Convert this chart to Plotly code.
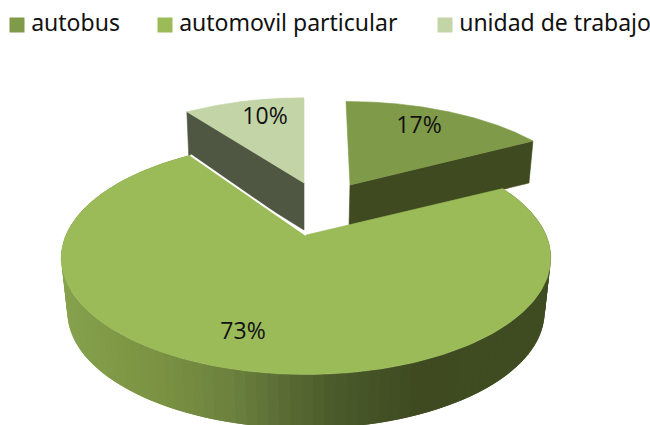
import numpy as np
import plotly.graph_objects as go

categories = ["autobus", "automovil particular", "unidad de trabajo"]
values = [17, 73, 10]
top_colors = ["#7f9a48", "#9bbb59", "#c3d5a6"]
wall_colors = ["#3f4a20", None, "#4f5641"]
legend_x = [17, 165, 445]

W, H = 650, 425
K = 0.197
# tip_x, tip_y, radius_x, radius_y, depth, skew, rotation in degrees
geom = [
    (350, 185, 231, 100, 42, 4, 0),
    (306, 235, 240, 112, 54, 0, 2),
    (304, 183, 231, 102, 47, 0, 0),
]
label_pos = [(419, 127), (243, 333), (265, 118)]
side_stops_x = [60, 170, 240, 340, 430, 555]
side_stops_rgb = [(135, 163, 78), (122, 146, 66), (108, 130, 62), (76, 92, 44), (63, 74, 32), (64, 77, 35)]


def project(t, g):
    tx, ty, rx, ry, _, skew, rot = g
    a = t + np.radians(rot)
    u, v = np.sin(a), np.cos(a)
    d = 1 + K * v
    return tx + rx * u / d - skew * v, ty - ry * v / d


frac = np.array(values) / sum(values)
edges = np.concatenate([[0], np.cumsum(frac)]) * 2 * np.pi
angles = [np.linspace(edges[i], edges[i + 1], 240) for i in range(3)]

fig = go.Figure()


def poly(x, y, color, width=0.6):
    fig.add_trace(go.Scatter(x=x, y=y, mode="lines", fill="toself", fillcolor=color,
                             line=dict(color=color, width=width), hoverinfo="skip", showlegend=False))


# exploded back slices: wall first, then top
for i in (2, 0):
    g = geom[i]
    edge_t = angles[i][0] if i == 2 else angles[i][-1]
    ex, ey = project(edge_t, g)
    poly([g[0], ex, ex - (-2 if i == 2 else 4), g[0] - (1 if i == 0 else 0), g[0]],
         [g[1], ey, ey + g[4], g[1] + g[4], g[1]], wall_colors[i])
    ax, ay = project(angles[i], g)
    poly(np.r_[g[0], ax, g[0]], np.r_[g[1], ay, g[1]], top_colors[i])

# large slice: outer wall built from its own arc, shaded left to right
g = geom[1]
ax, ay = project(angles[1], g)
shrink = 0.975
bx = g[0] + (ax - g[0]) * shrink
by = ay + g[4]
# overlapping strips hide the seams between neighbouring shades
step = 2
for j in range(len(ax) - 1 - step, -1, -step):
    k = j + step + 2 if j + step + 2 < len(ax) else len(ax) - 1
    xm = (ax[j] + ax[j + step]) / 2
    rgb = [np.interp(xm, side_stops_x, [c[n] for c in side_stops_rgb]) for n in range(3)]
    col = "rgb(%d,%d,%d)" % tuple(rgb)
    poly([ax[j], ax[k], bx[k], bx[j], ax[j]], [ay[j], ay[k], by[k], by[j], ay[j]], col, width=0)

poly(np.r_[g[0], ax, g[0]], np.r_[g[1], ay, g[1]], top_colors[1])
fig.add_trace(go.Scatter(x=[ax[-1], g[0]], y=[ay[-1], g[1]], mode="lines",
                         line=dict(color="white", width=2), hoverinfo="skip", showlegend=False))

# percentage labels
fig.add_trace(go.Scatter(x=[p[0] for p in label_pos], y=[p[1] for p in label_pos], mode="text",
                         text=[f"{v}%" for v in values], textposition="middle center",
                         textfont=dict(family="Open Sans", size=23, color="#111111"),
                         hoverinfo="skip", showlegend=False))

# legend row
fig.add_trace(go.Scatter(x=legend_x, y=[25] * 3, mode="markers+text",
                         marker=dict(symbol="square", size=15, color=top_colors),
                         text=["\u2009" + c for c in categories], textposition="middle right",
                         textfont=dict(family="Noto Sans", size=23, color="#111111"),
                         hoverinfo="skip", showlegend=False))

fig.update_layout(width=W, height=H, margin=dict(l=0, r=0, t=0, b=0),
                  paper_bgcolor="white", plot_bgcolor="white", showlegend=False,
                  xaxis=dict(range=[0, W], visible=False, fixedrange=True),
                  yaxis=dict(range=[H, 0], visible=False, fixedrange=True))
fig.write_html("out.html", config=dict(displayModeBar=False),
               post_script="document.body.style.margin='0';document.body.style.overflow='hidden';")
